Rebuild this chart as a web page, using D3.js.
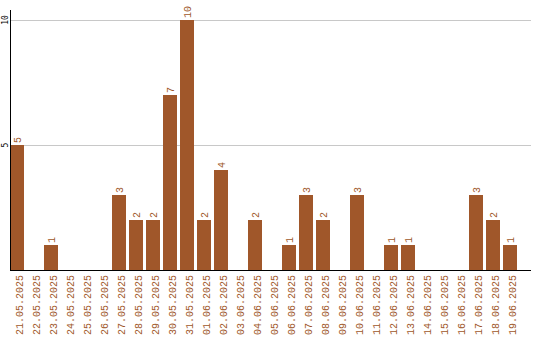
<!DOCTYPE html>
<html><head><meta charset="utf-8">
<script src="https://cdn.jsdelivr.net/npm/d3@7"></script>
<style>body{margin:0;background:#fff}svg{display:block}</style>
</head><body>
<script>
const categories = ["21.05.2025","22.05.2025","23.05.2025","24.05.2025","25.05.2025","26.05.2025","27.05.2025","28.05.2025","29.05.2025","30.05.2025","31.05.2025","01.06.2025","02.06.2025","03.06.2025","04.06.2025","05.06.2025","06.06.2025","07.06.2025","08.06.2025","09.06.2025","10.06.2025","11.06.2025","12.06.2025","13.06.2025","14.06.2025","15.06.2025","16.06.2025","17.06.2025","18.06.2025","19.06.2025"];
const values = [5,0,1,0,0,0,3,2,2,7,10,2,4,0,2,0,1,3,2,0,3,0,1,1,0,0,0,3,2,1];
const yTicks = [5,10];

const W = 540, H = 340;
const color = "#a0572a";
const font = "Liberation Mono, DejaVu Sans Mono, monospace";
const svg = d3.select("body").append("svg").attr("width", W).attr("height", H);

const x = d3.scaleBand().domain(categories).range([10, 517]).paddingInner(3/17).paddingOuter(0);
const y = d3.scaleLinear().domain([0, 10]).range([270, 20]);
const data = values.map((v, i) => ({c: categories[i], v})).filter(d => d.v > 0);

// gridlines
svg.append("g").selectAll("line").data(yTicks).join("line")
  .attr("x1", 10).attr("x2", 531)
  .attr("y1", d => Math.round(y(d)) + 0.5).attr("y2", d => Math.round(y(d)) + 0.5)
  .attr("stroke", "#c8c8c8").attr("stroke-width", 1);

// bars
svg.append("g").selectAll("rect").data(data).join("rect")
  .attr("x", d => x(d.c)).attr("width", x.bandwidth())
  .attr("y", d => y(d.v)).attr("height", d => y(0) - y(d.v))
  .attr("fill", color);

// value labels
svg.append("g").selectAll("text").data(data).join("text")
  .attr("transform", d => `translate(${x(d.c) + x.bandwidth()/2},${y(d.v) - 2}) rotate(-90)`)
  .attr("dy", "0.35em")
  .attr("text-anchor", "start")
  .attr("font-family", font).attr("font-size", 10)
  .attr("fill", color)
  .text(d => d.v);

// axes lines
svg.append("line").attr("x1", 10.5).attr("x2", 10.5).attr("y1", 10).attr("y2", 270).attr("stroke", "#000");
svg.append("line").attr("x1", 10).attr("x2", 531).attr("y1", 270.5).attr("y2", 270.5).attr("stroke", "#000");

// y tick labels
svg.append("g").selectAll("text").data(yTicks).join("text")
  .attr("transform", d => `translate(8,${y(d)}) rotate(-90)`)
  .attr("text-anchor", "middle")
  .attr("font-family", "DejaVu Sans Mono, monospace").attr("font-size", 8)
  .attr("fill", "#000")
  .text(d => d);

// x tick labels
svg.append("g").selectAll("text").data(categories).join("text")
  .attr("transform", d => `translate(${x(d) + x.bandwidth()/2 + 6},275) rotate(-90)`)
  .attr("text-anchor", "end")
  .attr("font-family", font).attr("font-size", 10)
  .attr("fill", color)
  .text(d => d);
</script>
</body></html>
